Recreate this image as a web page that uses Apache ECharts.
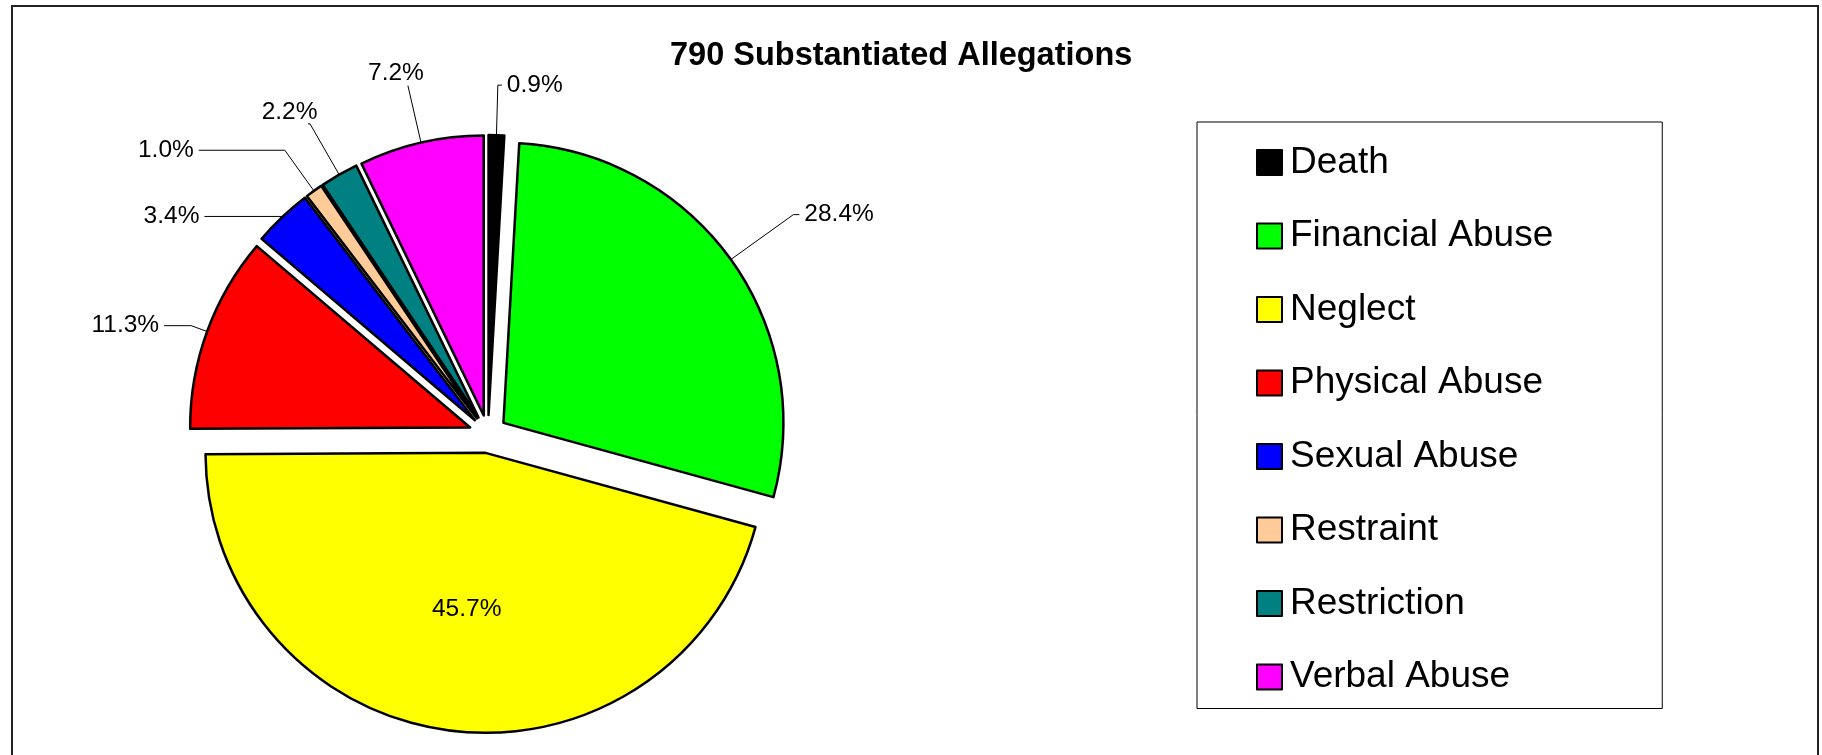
<!DOCTYPE html>
<html>
<head>
<meta charset="utf-8">
<script src="https://cdn.jsdelivr.net/npm/echarts@6/dist/echarts.min.js"></script>
<style>
html,body{margin:0;padding:0;background:#fff;}
#chart{width:1822px;height:755px;}
</style>
</head>
<body>
<div id="chart"></div>
<script>
const titleText = '790 Substantiated Allegations';
const categories = ['Death', 'Financial Abuse', 'Neglect', 'Physical Abuse', 'Sexual Abuse', 'Restraint', 'Restriction', 'Verbal Abuse'];
const percents = [0.9, 28.4, 45.7, 11.3, 3.4, 1.0, 2.2, 7.2];

// styles
const colors = ['#000000', '#00FF00', '#FFFF00', '#FF0000', '#0000FF', '#FFCC99', '#008080', '#FF00FF'];
const lineLen1 = [50, 77, 0, 17, 1, 50, 58.6, 58.5];
const lineLen2 = [4, 6, 0, 27, 77, 86, 2, 0];
const labelDist = [5, 5, 5, 5, 5, 5, -9.5, -16];
// vertical label shift: 'up' raises text above the line end, 'down' lowers it
const labelShift = ['', '', 'down', '', '', '', 'up', 'up'];
const insideLabel = [false, false, true, false, false, false, false, false];

const FONT = '"Liberation Sans", Arial, sans-serif';

const chart = echarts.init(document.getElementById('chart'), null, {renderer: 'canvas'});

const data = categories.map((name, i) => ({
  name: name,
  value: percents[i],
  selected: true,
  itemStyle: {color: colors[i]},
  label: {
    position: insideLabel[i] ? 'inside' : 'outside',
    distanceToLabelLine: labelDist[i]
  },
  labelLine: {show: !insideLabel[i], length: lineLen1[i], length2: lineLen2[i]}
}));

function fmt(p) {
  const txt = p.value.toFixed(1) + '%';
  const s = labelShift[p.dataIndex];
  if (s === 'up') return '{t|' + txt + '}\n{gu|}';
  if (s === 'down') return '{gd|}\n{t|' + txt + '}';
  return '{t|' + txt + '}';
}

chart.setOption({
  animation: false,
  backgroundColor: '#ffffff',
  graphic: [{
    type: 'rect',
    shape: {x: 12, y: 6, width: 1806, height: 800},
    style: {fill: 'none', stroke: '#222', lineWidth: 2},
    silent: true
  }],
  title: {
    text: titleText,
    left: 670,
    top: 40,
    padding: 0,
    textStyle: {fontFamily: FONT, fontSize: 32.5, fontWeight: 'bold', color: '#000'}
  },
  legend: {
    orient: 'vertical',
    left: 1197,
    top: 122,
    padding: [22, 109, 13, 59],
    itemGap: 36.5,
    itemWidth: 25,
    itemHeight: 25,
    icon: 'rect',
    borderColor: '#000',
    borderWidth: 1,
    backgroundColor: '#fff',
    selectedMode: false,
    itemStyle: {borderColor: '#000', borderWidth: 2},
    textStyle: {fontFamily: FONT, fontSize: 37, lineHeight: 36, color: '#000', padding: [0, 0, 0, 3]},
    data: categories
  },
  series: [{
    type: 'pie',
    center: [488, 434],
    radius: 280,
    startAngle: 90,
    clockwise: true,
    selectedMode: 'multiple',
    selectedOffset: 19,
    avoidLabelOverlap: false,
    emphasis: {disabled: true, scale: false},
    itemStyle: {borderColor: '#000', borderWidth: 2.5},
    select: {itemStyle: {borderColor: '#000', borderWidth: 2.5}},
    label: {
      fontFamily: FONT,
      fontSize: 24.5,
      color: '#000',
      formatter: fmt,
      rich: {
        t: {fontFamily: FONT, fontSize: 24.5, color: '#000', height: 26},
        gu: {height: 24},
        gd: {height: 30}
      }
    },
    labelLine: {lineStyle: {color: '#000', width: 1}},
    data: data
  }]
});
</script>
</body>
</html>
